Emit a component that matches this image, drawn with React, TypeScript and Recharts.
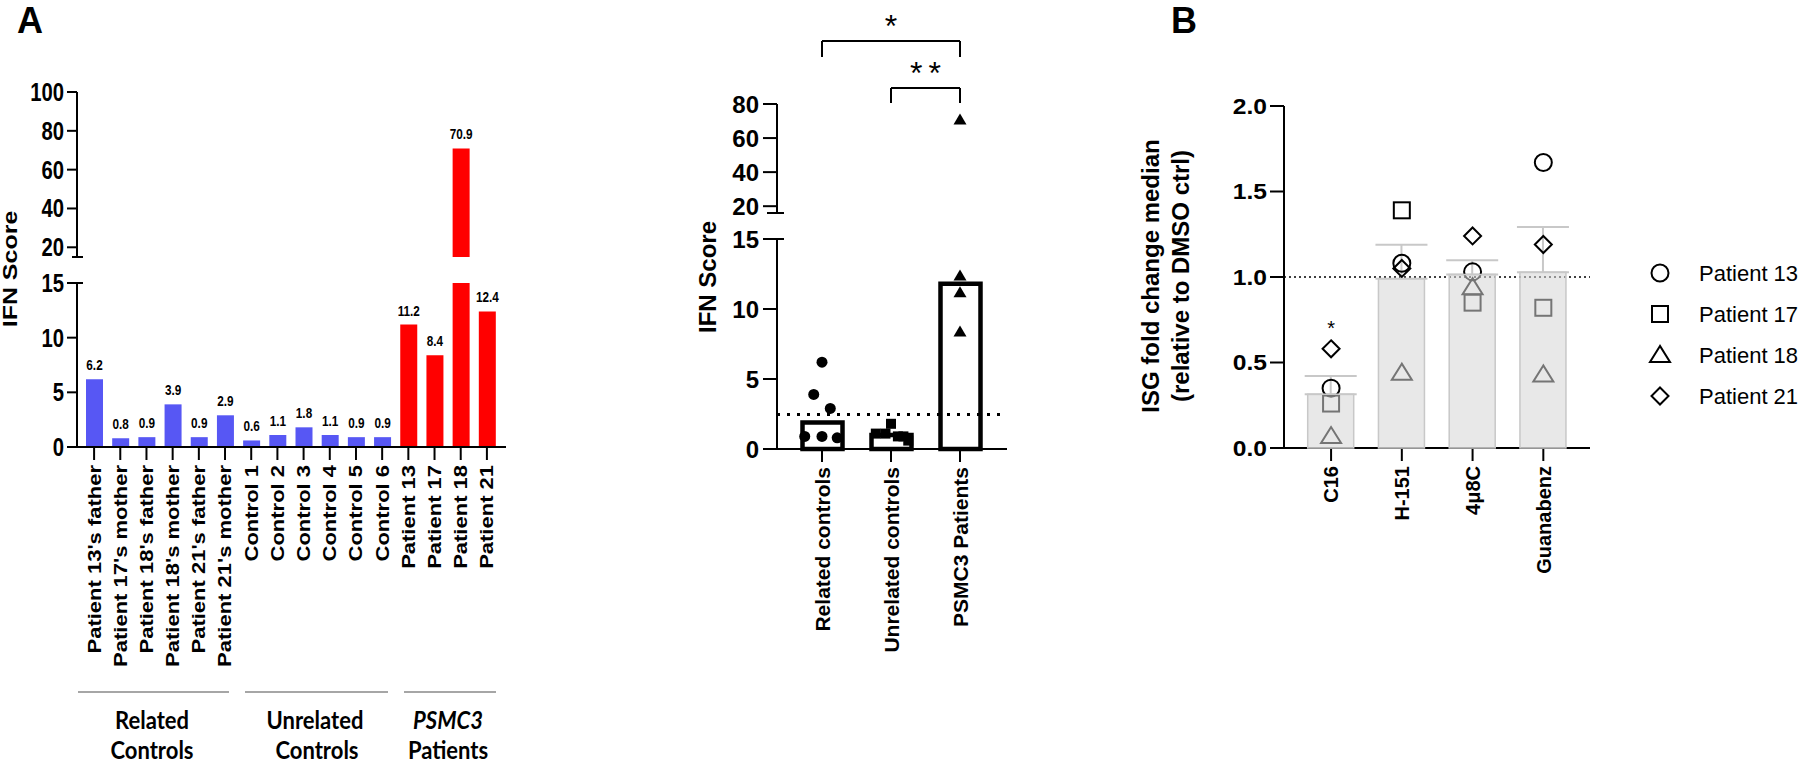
import {
  Bar,
  BarChart,
  Cell,
  ComposedChart,
  ErrorBar,
  LabelList,
  ReferenceDot,
  ReferenceLine,
  Scatter,
  XAxis,
  YAxis,
} from "recharts"

// panel A, left: IFN score for each subject
const relatedNames = [
  "Patient 13's father",
  "Patient 17's mother",
  "Patient 18's father",
  "Patient 18's mother",
  "Patient 21's father",
  "Patient 21's mother",
]
const relatedScores = [6.2, 0.8, 0.9, 3.9, 0.9, 2.9]
const unrelatedNames = ["Control 1", "Control 2", "Control 3", "Control 4", "Control 5", "Control 6"]
const unrelatedScores = [0.6, 1.1, 1.8, 1.1, 0.9, 0.9]
const patientNames = ["Patient 13", "Patient 17", "Patient 18", "Patient 21"]
const patientScores = [11.2, 8.4, 70.9, 12.4]

// panel A, right: grouped scores (jitter = horizontal spread of the dots, in category units)
const groupNames = ["Related controls", "Unrelated controls", "PSMC3 Patients"]
const relatedJitter = [0, 0.22, -0.25, -0.12, 0, 0.12]
const unrelatedJitter = [0.25, -0.22, 0, -0.08, 0.1, 0.18]
const patientJitter = [0, 0, 0, 0]
const ifnThreshold = 2.47

// panel B: ISG fold change per drug
const drugs = ["C16", "H-151", "4μ8C", "Guanabenz"]
const p13Fold = [0.35, 1.08, 1.03, 1.67]
const p17Fold = [0.26, 1.39, 0.85, 0.82]
const p18Fold = [0.07, 0.44, 0.94, 0.43]
const p21Fold = [0.58, 1.05, 1.24, 1.19]

const blue = "#5757F4"
const red = "#FF0000"
const axisStyle = { stroke: "#000", strokeWidth: 2 }

const median = (v: number[]) => {
  const s = [...v].sort((a, b) => a - b)
  const m = Math.floor(s.length / 2)
  return s.length % 2 ? s[m] : (s[m - 1] + s[m]) / 2
}
const mean = (v: number[]) => v.reduce((a, b) => a + b, 0) / v.length
const sem = (v: number[]) => {
  const m = mean(v)
  const sd = Math.sqrt(v.reduce((a, b) => a + (b - m) ** 2, 0) / (v.length - 1))
  return sd / Math.sqrt(v.length)
}

const scoreRows = [
  ...relatedNames.map((name, i) => ({ name, score: relatedScores[i], patient: false })),
  ...unrelatedNames.map((name, i) => ({ name, score: unrelatedScores[i], patient: false })),
  ...patientNames.map((name, i) => ({ name, score: patientScores[i], patient: true })),
]
const topRows = scoreRows.map((r) => ({ ...r, score: r.score > 15 ? r.score : null }))

const groupRows = groupNames.map((group, i) => ({
  group,
  median: median([relatedScores, unrelatedScores, patientScores][i]),
}))
const relatedPoints = relatedScores.map((y, i) => ({ x: 0 + relatedJitter[i], y }))
const unrelatedPoints = unrelatedScores.map((y, i) => ({ x: 1 + unrelatedJitter[i], y }))
const patientPoints = patientScores.map((y, i) => ({ x: 2 + patientJitter[i], y }))

const foldSeries = [p13Fold, p17Fold, p18Fold, p21Fold]
const drugRows = drugs.map((drug, i) => {
  const vals = foldSeries.map((s) => s[i])
  return {
    drug,
    mean: mean(vals),
    err: [0, sem(vals)],
    p13: p13Fold[i],
    p17: p17Fold[i],
    p18: p18Fold[i],
    p21: p21Fold[i],
  }
})

// ticks and labels
const narrowTick = (props: any) => (
  <text
    transform={`translate(${props.x},${props.y}) scale(0.81,1)`}
    textAnchor="end"
    dy="0.36em"
    fontSize={25}
    fontWeight={700}
    fill="#000"
  >
    {props.payload.value}
  </text>
)

const wideTick = (props: any) => (
  <text
    transform={`translate(${props.x},${props.y}) scale(1.12,1)`}
    textAnchor="end"
    dy="0.36em"
    fontSize={22}
    fontWeight={700}
    fill="#000"
  >
    {Number(props.payload.value).toFixed(1)}
  </text>
)

const rotatedTick = (fontSize: number, squeeze: number) => (props: any) => (
  <text
    transform={`translate(${props.x},${props.y + 2}) rotate(-90) scale(1,${squeeze})`}
    textAnchor="end"
    dy="0.36em"
    fontSize={fontSize}
    fontWeight={700}
    fill="#000"
  >
    {props.payload.value}
  </text>
)

const barLabel = (maxV: number) => (props: any) => {
  const { x, y, width, value } = props
  if (value == null || value > maxV) return null
  return (
    <text
      transform={`translate(${x + width / 2},${y - 9}) scale(0.81,1)`}
      textAnchor="middle"
      fontSize={14.5}
      fontWeight={700}
      fill="#000"
    >
      {Number(value).toFixed(1)}
    </text>
  )
}

const starLabel = (text: string, size: number, spacing = 0) => (props: any) => {
  const vb = props.viewBox
  return (
    <text
      x={vb.x + vb.width / 2 + spacing / 2}
      y={vb.y + vb.height / 2}
      dy={size * 0.52}
      textAnchor="middle"
      fontSize={size}
      letterSpacing={spacing}
      fill="#000"
    >
      {text}
    </text>
  )
}

// marker shapes
const solidDot = (p: any) => <circle cx={p.cx} cy={p.cy} r={5.5} fill="#000" />
const solidSquare = (p: any) => <rect x={p.cx - 5} y={p.cy - 5} width={10} height={10} fill="#000" />
const solidTriangle = (p: any) => (
  <polygon points={`${p.cx},${p.cy - 6} ${p.cx - 6.5},${p.cy + 5} ${p.cx + 6.5},${p.cy + 5}`} fill="#000" />
)
const hollow = { fill: "none", stroke: "#000", strokeWidth: 2 }
const openCircle = (p: any) => <circle cx={p.cx} cy={p.cy} r={8.5} {...hollow} />
const openSquare = (p: any) => <rect x={p.cx - 8} y={p.cy - 8} width={16} height={16} {...hollow} />
const openTriangle = (p: any) => (
  <polygon points={`${p.cx},${p.cy - 9} ${p.cx - 10},${p.cy + 7} ${p.cx + 10},${p.cy + 7}`} {...hollow} />
)
const openDiamond = (p: any) => (
  <polygon
    points={`${p.cx},${p.cy - 8.5} ${p.cx + 8.5},${p.cy} ${p.cx},${p.cy + 8.5} ${p.cx - 8.5},${p.cy}`}
    {...hollow}
  />
)
const openShapes = [openCircle, openSquare, openTriangle, openDiamond]
const foldKeys = ["p13", "p17", "p18", "p21"]

const abs = (left: number, top: number) => ({ position: "absolute" as const, left, top })

export default function App() {
  return (
    <div
      style={{
        position: "absolute",
        left: 0,
        top: 0,
        width: 1800,
        height: 766,
        background: "#fff",
        fontFamily: "'Liberation Sans', Arial, sans-serif",
        overflow: "hidden",
      }}
    >
      {/* A left, upper segment */}
      <div style={abs(0, 0)}>
        <BarChart width={520} height={270} data={topRows} margin={{ top: 92, right: 14, bottom: 13, left: 17 }}>
          <XAxis dataKey="name" hide padding={{ left: 4, right: 6 }} />
          <YAxis
            width={60}
            domain={[15, 100]}
            ticks={[20, 40, 60, 80, 100]}
            allowDataOverflow
            tickSize={10}
            tickMargin={3}
            tick={narrowTick}
            axisLine={axisStyle}
            tickLine={axisStyle}
          />
          <Bar dataKey="score" barSize={17} isAnimationActive={false}>
            {topRows.map((r, i) => (
              <Cell key={i} fill={r.patient ? red : blue} />
            ))}
            <LabelList dataKey="score" content={barLabel(1000)} />
          </Bar>
        </BarChart>
      </div>

      {/* A left, lower segment */}
      <div style={abs(0, 0)}>
        <BarChart width={520} height={680} data={scoreRows} margin={{ top: 283, right: 14, bottom: 0, left: 17 }}>
          <XAxis
            dataKey="name"
            interval={0}
            height={233}
            padding={{ left: 4, right: 6 }}
            tickSize={13}
            tickMargin={3}
            tick={rotatedTick(22, 0.81)}
            axisLine={axisStyle}
            tickLine={axisStyle}
          />
          <YAxis
            width={60}
            domain={[0, 15]}
            ticks={[0, 5, 10, 15]}
            allowDataOverflow
            tickSize={10}
            tickMargin={3}
            tick={narrowTick}
            axisLine={axisStyle}
            tickLine={axisStyle}
          />
          <Bar dataKey="score" barSize={17} isAnimationActive={false}>
            {scoreRows.map((r, i) => (
              <Cell key={i} fill={r.patient ? red : blue} />
            ))}
            <LabelList dataKey="score" content={barLabel(15)} />
          </Bar>
        </BarChart>
      </div>

      {/* A right, upper segment */}
      <div style={abs(700, 0)}>
        <ComposedChart width={330} height={225} data={groupRows} margin={{ top: 104, right: 23, bottom: 12, left: 17 }}>
          <XAxis dataKey="group" hide padding={{ left: 10.5, right: 12.5 }} />
          <XAxis xAxisId="num" dataKey="x" type="number" domain={[-0.5, 2.5]} hide padding={{ left: 10.5, right: 12.5 }} />
          <YAxis
            width={60}
            domain={[16, 80]}
            ticks={[20, 40, 60, 80]}
            tickSize={14}
            tickMargin={4}
            tick={{ fontSize: 24, fontWeight: 700, fill: "#000" }}
            axisLine={axisStyle}
            tickLine={axisStyle}
          />
          <ReferenceLine xAxisId="num" ifOverflow="visible" segment={[{ x: 0, y: 107.6 }, { x: 0, y: 117 }]} stroke="#000" strokeWidth={2} />
          <ReferenceLine xAxisId="num" ifOverflow="visible" segment={[{ x: 0, y: 117 }, { x: 2, y: 117 }]} stroke="#000" strokeWidth={2} />
          <ReferenceLine xAxisId="num" ifOverflow="visible" segment={[{ x: 2, y: 117 }, { x: 2, y: 107.6 }]} stroke="#000" strokeWidth={2} />
          <ReferenceLine xAxisId="num" ifOverflow="visible" segment={[{ x: 1, y: 80.6 }, { x: 1, y: 89.4 }]} stroke="#000" strokeWidth={2} />
          <ReferenceLine xAxisId="num" ifOverflow="visible" segment={[{ x: 1, y: 89.4 }, { x: 2, y: 89.4 }]} stroke="#000" strokeWidth={2} />
          <ReferenceLine xAxisId="num" ifOverflow="visible" segment={[{ x: 2, y: 89.4 }, { x: 2, y: 80.6 }]} stroke="#000" strokeWidth={2} />
          <ReferenceDot xAxisId="num" x={1} y={129.3} r={0} ifOverflow="visible" label={starLabel("*", 32)} />
          <ReferenceDot xAxisId="num" x={1.5} y={101.7} r={0} ifOverflow="visible" label={starLabel("**", 32, 6)} />
          <Scatter
            xAxisId="num"
            data={patientPoints.filter((p) => p.y > 15)}
            dataKey="y"
            shape={solidTriangle}
            isAnimationActive={false}
          />
        </ComposedChart>
      </div>

      {/* A right, lower segment */}
      <div style={abs(700, 0)}>
        <ComposedChart width={330} height={680} data={groupRows} margin={{ top: 239, right: 23, bottom: 0, left: 17 }}>
          <XAxis
            dataKey="group"
            interval={0}
            height={231}
            padding={{ left: 10.5, right: 12.5 }}
            tickSize={13}
            tickMargin={3}
            tick={rotatedTick(21, 1)}
            axisLine={axisStyle}
            tickLine={axisStyle}
          />
          <XAxis xAxisId="num" dataKey="x" type="number" domain={[-0.5, 2.5]} hide padding={{ left: 10.5, right: 12.5 }} />
          <YAxis
            width={60}
            domain={[0, 15]}
            ticks={[0, 5, 10, 15]}
            tickSize={14}
            tickMargin={4}
            tick={{ fontSize: 24, fontWeight: 700, fill: "#000" }}
            axisLine={axisStyle}
            tickLine={axisStyle}
          />
          <ReferenceLine y={ifnThreshold} stroke="#000" strokeWidth={3} strokeDasharray="3 7" />
          <Bar dataKey="median" barSize={40} fill="none" stroke="#000" strokeWidth={4.5} isAnimationActive={false} />
          <Scatter xAxisId="num" data={relatedPoints} dataKey="y" shape={solidDot} isAnimationActive={false} />
          <Scatter xAxisId="num" data={unrelatedPoints} dataKey="y" shape={solidSquare} isAnimationActive={false} />
          <Scatter
            xAxisId="num"
            data={patientPoints.filter((p) => p.y <= 15)}
            dataKey="y"
            shape={solidTriangle}
            isAnimationActive={false}
          />
        </ComposedChart>
      </div>

      {/* B */}
      <div style={abs(1100, 0)}>
        <ComposedChart width={700} height={680} data={drugRows} margin={{ top: 106, right: 210, bottom: 0, left: 104 }}>
          <XAxis
            dataKey="drug"
            interval={0}
            height={232}
            padding={{ left: 11.7, right: 11.3 }}
            tickSize={13}
            tickMargin={3}
            tick={rotatedTick(20, 1)}
            axisLine={axisStyle}
            tickLine={axisStyle}
          />
          <YAxis
            width={80}
            domain={[0, 2]}
            ticks={[0, 0.5, 1, 1.5, 2]}
            tickSize={14}
            tickMargin={3}
            tick={wideTick}
            axisLine={axisStyle}
            tickLine={axisStyle}
          />
          <ReferenceLine y={1} stroke="#000" strokeWidth={1.5} strokeDasharray="2 3" />
          {foldKeys.map((k, i) => (
            <Scatter key={k} name={patientNames[i]} dataKey={k} shape={openShapes[i]} isAnimationActive={false} />
          ))}
          <Bar
            dataKey="mean"
            barSize={46}
            fill="#d6d6d6"
            fillOpacity={0.55}
            stroke="#c8c8c8"
            strokeWidth={1.5}
            isAnimationActive={false}
            {...({ zIndex: 700 } as any)}
          >
            <ErrorBar dataKey="err" width={26} stroke="#c8c8c8" strokeWidth={2} />
          </Bar>
          <ReferenceDot x="C16" y={0.72} r={0} label={starLabel("*", 20)} />
        </ComposedChart>
      </div>

      {/* titles, group brackets, legend */}
      <svg width={1800} height={766} style={{ ...abs(0, 0), pointerEvents: "none" }}>
        <text x={17} y={33} fontSize={36} fontWeight={700} fill="#000">A</text>
        <text x={1171} y={33} fontSize={36} fontWeight={700} fill="#000">B</text>

        <text transform="translate(10,269) rotate(-90) scale(1,0.81)" textAnchor="middle" dy="0.36em" fontSize={25} fontWeight={700}>
          IFN Score
        </text>
        <text transform="translate(707,277) rotate(-90)" textAnchor="middle" dy="0.36em" fontSize={24} fontWeight={700}>
          IFN Score
        </text>
        <text transform="translate(1150,276) rotate(-90)" textAnchor="middle" dy="0.36em" fontSize={24} fontWeight={700}>
          ISG fold change median
        </text>
        <text transform="translate(1180,276) rotate(-90)" textAnchor="middle" dy="0.36em" fontSize={24} fontWeight={700}>
          (relative to DMSO ctrl)
        </text>

        {/* axis break marks */}
        <line x1={72} x2={83} y1={257} y2={257} stroke="#000" strokeWidth={2} />
        <line x1={72} x2={83} y1={283} y2={283} stroke="#000" strokeWidth={2} />
        <line x1={767} x2={784} y1={213} y2={213} stroke="#000" strokeWidth={2} />
        <line x1={767} x2={784} y1={239} y2={239} stroke="#000" strokeWidth={2} />

        {/* group lines */}
        <line x1={78} x2={229} y1={692} y2={692} stroke="#888" strokeWidth={1.5} />
        <line x1={245} x2={388} y1={692} y2={692} stroke="#888" strokeWidth={1.5} />
        <line x1={404} x2={496} y1={692} y2={692} stroke="#888" strokeWidth={1.5} />
        <g fontFamily="Lato, 'Open Sans', sans-serif" fontWeight={700} fontSize={25} textAnchor="middle" fill="#000">
          <text transform="translate(152,729) scale(0.88,1)">Related</text>
          <text transform="translate(152,759) scale(0.88,1)">Controls</text>
          <text transform="translate(315,729) scale(0.88,1)">Unrelated</text>
          <text transform="translate(317,759) scale(0.88,1)">Controls</text>
          <text transform="translate(448,729) scale(0.88,1)" fontStyle="italic">PSMC3</text>
          <text transform="translate(448,759) scale(0.88,1)">Patients</text>
        </g>

        {/* legend for B */}
        {patientNames.map((name, i) => {
          const cy = 273 + i * 41
          const Shape = openShapes[i]
          return (
            <g key={name}>
              {Shape({ cx: 1660, cy })}
              <text x={1699} y={cy} dy="0.36em" fontSize={22} fill="#000">
                {name}
              </text>
            </g>
          )
        })}
      </svg>
    </div>
  )
}
